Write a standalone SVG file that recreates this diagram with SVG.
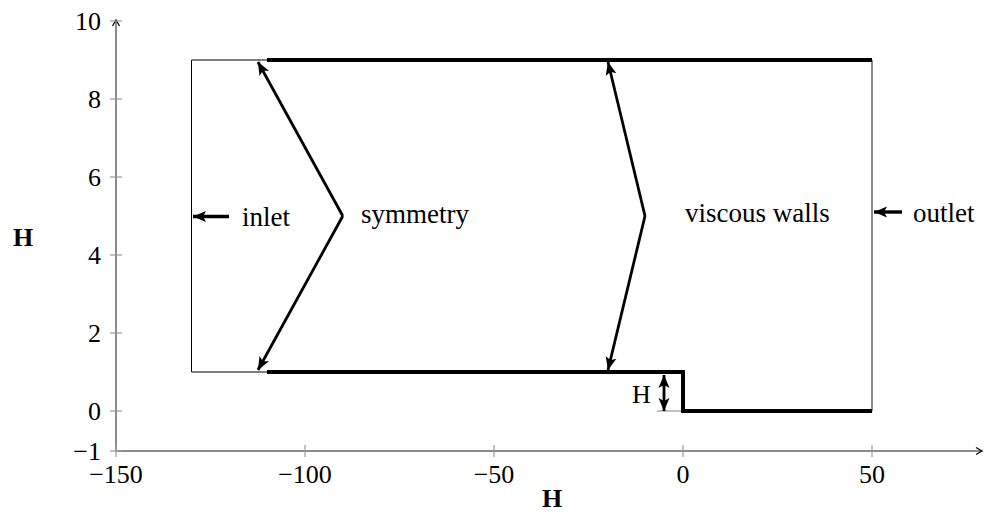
<svg xmlns="http://www.w3.org/2000/svg" width="984" height="519" viewBox="0 0 984 519" font-family="'Liberation Serif', 'DejaVu Serif', serif">
<style>
text { font-family: 'Liberation Serif', 'DejaVu Serif', serif; font-size: 26px; fill: #000; }
.tl { text-anchor: end; }
.tc { text-anchor: middle; }
.lab { font-size: 27px; }
.axis { stroke: #666; stroke-width: 1.5; fill: none; }
.tick { stroke: #999; stroke-width: 1.2; }
.wall { stroke: #000; stroke-width: 4; fill: none; stroke-linecap: butt; }
.thin { stroke: #000; stroke-width: 1; fill: none; }
.arr { stroke: #000; stroke-width: 2.8; fill: none; marker-end: url(#ah); }
.io { stroke-width: 3.4; }
.bold { font-weight: bold; }
</style>
<defs>
<marker id="ah" markerUnits="userSpaceOnUse" markerWidth="16" markerHeight="14" viewBox="-14 -7 16 14" refX="0" refY="0" orient="auto-start-reverse">
<path d="M0,0 L-13,-5.5 L-10,0 L-13,5.5 z" fill="#000"/>
</marker>
<marker id="axh" markerUnits="userSpaceOnUse" markerWidth="10" markerHeight="10" viewBox="-8 -5 10 10" refX="0" refY="0" orient="auto">
<path d="M-6,-3.5 L0,0 L-6,3.5" fill="none" stroke="#000" stroke-width="1.2"/>
</marker>
</defs>

<g id="axes">
<line class="axis" x1="116" y1="451" x2="116" y2="20" marker-end="url(#axh)"/>
<line class="axis" x1="116" y1="451" x2="982" y2="451" marker-end="url(#axh)"/>
<g id="yticks">
<line class="tick" x1="110" y1="21" x2="122" y2="21"/>
<line class="tick" x1="110" y1="99" x2="122" y2="99"/>
<line class="tick" x1="110" y1="177" x2="122" y2="177"/>
<line class="tick" x1="110" y1="255" x2="122" y2="255"/>
<line class="tick" x1="110" y1="333" x2="122" y2="333"/>
<line class="tick" x1="110" y1="411" x2="122" y2="411"/>
<line class="tick" x1="110" y1="451" x2="122" y2="451"/>
</g>
<g id="xticks">
<line class="tick" x1="116" y1="445" x2="116" y2="457"/>
<line class="tick" x1="305" y1="445" x2="305" y2="457"/>
<line class="tick" x1="494" y1="445" x2="494" y2="457"/>
<line class="tick" x1="683" y1="445" x2="683" y2="457"/>
<line class="tick" x1="872" y1="445" x2="872" y2="457"/>
</g>
<g id="ylabels">
<text class="tl" x="101" y="30">10</text>
<text class="tl" x="101" y="108">8</text>
<text class="tl" x="101" y="186">6</text>
<text class="tl" x="101" y="264">4</text>
<text class="tl" x="101" y="342">2</text>
<text class="tl" x="101" y="420">0</text>
<text class="tl" x="101" y="460">−1</text>
</g>
<g id="xlabels">
<text class="tc" x="116" y="483">−150</text>
<text class="tc" x="305" y="483">−100</text>
<text class="tc" x="494" y="483">−50</text>
<text class="tc" x="683" y="483">0</text>
<text class="tc" x="872" y="483">50</text>
</g>
<text id="ylabel" class="bold tc" x="23" y="246">H</text>
<text id="xlabel" class="bold tc" x="552" y="507">H</text>
</g>

<g id="domain">
<polyline class="thin" points="267,60 191.5,60 191.5,372 267,372"/>
<line x1="872" y1="60" x2="872" y2="411" stroke="#666" stroke-width="1.5"/>
<line x1="657" y1="411" x2="683" y2="411" stroke="#999" stroke-width="1.2"/>
</g>

<g id="walls">
<polyline class="wall" points="267,60 872,60"/>
<polyline class="wall" points="267,372 683,372 683,411 872,411"/>
</g>

<g id="connectors">
<line class="arr io" x1="229" y1="216.5" x2="193" y2="216.5"/>
<line class="arr io" x1="902" y1="212" x2="874" y2="212"/>
<line class="arr" x1="342.8" y1="216" x2="258" y2="62"/>
<line class="arr" x1="342.8" y1="216" x2="258" y2="370"/>
<line class="arr" x1="645" y1="216" x2="608" y2="62"/>
<line class="arr" x1="645" y1="216" x2="608" y2="370"/>
<line class="arr" x1="664" y1="375" x2="664" y2="411" marker-start="url(#ah)"/>
</g>

<g id="labels">
<text id="inlet" class="lab" x="242" y="226">inlet</text>
<text id="symmetry" class="lab" x="361" y="223">symmetry</text>
<text id="viscous" class="lab" x="685" y="222">viscous walls</text>
<text id="outlet" class="lab" x="913" y="222">outlet</text>
<text id="stepH" x="632" y="403">H</text>
</g>
</svg>
